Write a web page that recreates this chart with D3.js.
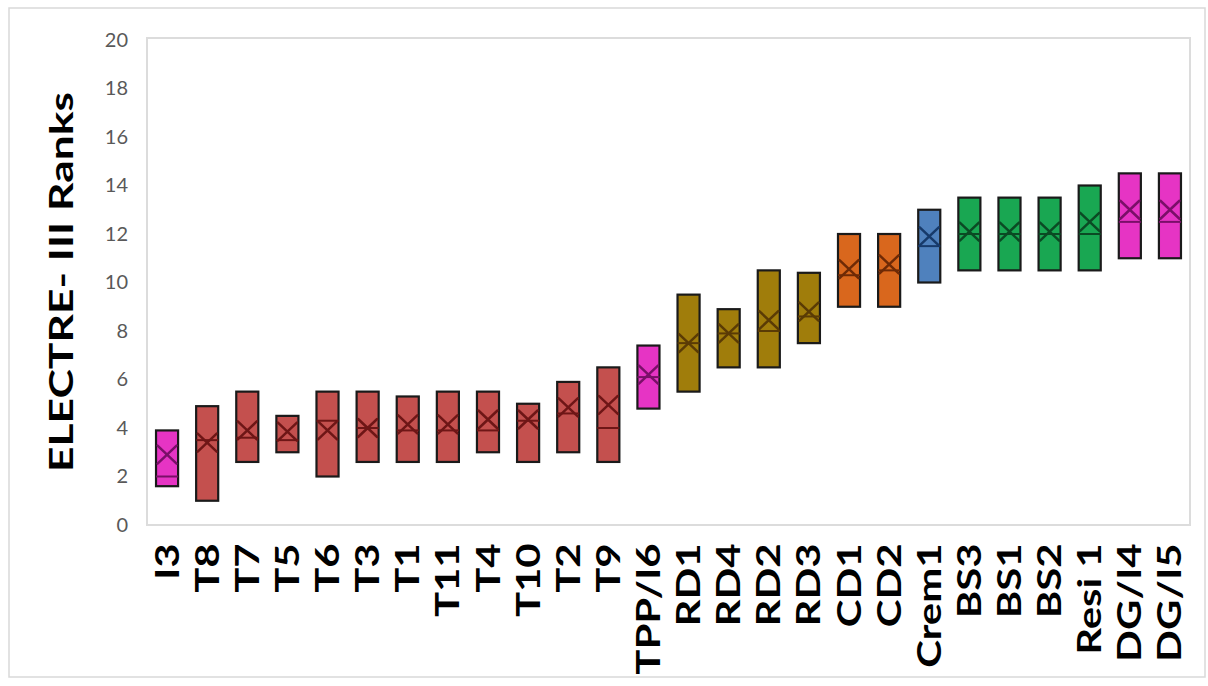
<!DOCTYPE html>
<html>
<head>
<meta charset="utf-8">
<script src="https://cdn.jsdelivr.net/npm/d3@7"></script>
<style>
  html, body { margin: 0; padding: 0; background: #fff; }
  svg { display: block; }
</style>
</head>
<body>
<svg id="chart" width="1208" height="686"></svg>
<script>
// ---- data ----
const categories = ["I3","T8","T7","T5","T6","T3","T1","T11","T4","T10","T2","T9","TPP/I6","RD1","RD4","RD2","RD3","CD1","CD2","Crem1","BS3","BS1","BS2","Resi 1","DG/I4","DG/I5"];
const boxLow  = [1.6,1.0,2.6,3.0,2.0,2.6,2.6,2.6,3.0,2.6,3.0,2.6,4.8,5.5,6.5,6.5,7.5,9.0,9.0,10.0,10.5,10.5,10.5,10.5,11.0,11.0];
const boxHigh = [3.9,4.9,5.5,4.5,5.5,5.5,5.3,5.5,5.5,5.0,5.9,6.5,7.4,9.5,8.9,10.5,10.4,12.0,12.0,13.0,13.5,13.5,13.5,14.0,14.5,14.5];
const medians = [2.0,3.5,3.6,3.5,4.3,4.0,3.9,3.9,3.9,4.3,4.6,4.0,6.1,7.5,7.9,8.0,8.6,10.3,10.5,11.5,12.0,12.0,12.0,12.0,12.5,12.5];
const means   = [2.9,3.4,3.9,3.85,3.9,4.0,4.15,4.15,4.35,4.35,4.85,4.95,6.2,7.5,7.9,8.45,8.8,10.55,10.75,11.9,12.1,12.1,12.1,12.5,13.0,13.0];
const groups  = ["I","T","T","T","T","T","T","T","T","T","T","T","I","RD","RD","RD","RD","CD","CD","Crem","BS","BS","BS","BS","I","I"];
const yTicks  = [0,2,4,6,8,10,12,14,16,18,20];
const yTitle  = "ELECTRE- III Ranks";

const groupNames = ["I","T","RD","CD","Crem","BS"];
const fillColors = ["#E634C4","#C4504E","#A07D0B","#D9671D","#4F81BD","#19A752"];
const darkColors = ["#7A0F68","#6E1616","#5A3B05","#6E2A06","#173A6A","#0B4A24"];

// ---- layout ----
const svg = d3.select("#chart");
const pLeft = 147, pRight = 1190, pTop = 40, pBottom = 525;

const x = d3.scaleBand().domain(categories).range([pLeft, pRight]);
const y = d3.scaleLinear().domain([0, 20]).range([pBottom, pTop]);
const fill = d3.scaleOrdinal().domain(groupNames).range(fillColors);
const dark = d3.scaleOrdinal().domain(groupNames).range(darkColors);

// outer chart border
svg.append("rect").attr("x", 9).attr("y", 8).attr("width", 1196).attr("height", 669)
  .attr("fill", "none").attr("stroke", "#d9d9d9").attr("stroke-width", 1.5);

// plot area border
svg.append("rect").attr("x", pLeft).attr("y", y(20) - 2).attr("width", pRight - pLeft).attr("height", pBottom - y(20) + 2)
  .attr("fill", "none").attr("stroke", "#dcdcdc").attr("stroke-width", 2);

// y axis
const yAxis = svg.append("g").attr("transform", `translate(${pLeft},0)`)
  .call(d3.axisLeft(y).tickValues(yTicks).tickSize(0).tickPadding(19));
yAxis.select(".domain").remove();
yAxis.selectAll("text").attr("fill", "#595959").style("font-family", "Lato, 'Open Sans', sans-serif").style("font-size", "20px");

// x axis
const xAxis = svg.append("g").attr("transform", `translate(0,${pBottom})`)
  .call(d3.axisBottom(x).tickSize(0));
xAxis.select(".domain").remove();
xAxis.selectAll("text")
  .attr("text-anchor", "end")
  .attr("x", -14).attr("y", 0).attr("dy", "0.36em")
  .attr("transform", "rotate(-90) scale(1.31,1)")
  .attr("fill", "#000")
  .style("font-family", "Lato, 'Open Sans', sans-serif")
  .style("font-weight", "bold")
  .style("font-size", "32px");

// y title
svg.append("text")
  .attr("transform", `translate(73,282) rotate(-90)`)
  .attr("text-anchor", "middle")
  .attr("textLength", 380).attr("lengthAdjust", "spacingAndGlyphs")
  .style("font-family", "Lato, 'Open Sans', sans-serif")
  .style("font-weight", "bold")
  .style("font-size", "33px")
  .attr("fill", "#000")
  .text(yTitle);

// boxes
const data = categories.map((c, i) => ({ c, lo: boxLow[i], hi: boxHigh[i], med: medians[i], mean: means[i], g: groups[i] }));
const bw = x.bandwidth() * 0.55;
const g = svg.append("g");
const box = g.selectAll("g.box").data(data).join("g").attr("class", "box")
  .attr("transform", d => `translate(${x(d.c) + x.bandwidth() / 2},0)`);

box.append("rect")
  .attr("x", -bw / 2).attr("width", bw)
  .attr("y", d => y(d.hi)).attr("height", d => y(d.lo) - y(d.hi))
  .attr("fill", d => fill(d.g)).attr("stroke", "#1a1a1a").attr("stroke-width", 2.2);

box.append("line")
  .attr("x1", -bw / 2).attr("x2", bw / 2)
  .attr("y1", d => y(d.med)).attr("y2", d => y(d.med))
  .attr("stroke", d => dark(d.g)).attr("stroke-width", 2);

const mx = 9.5, my = 9;
box.append("path")
  .attr("d", d => {
    const cy = y(d.mean);
    return `M${-mx},${cy - my}L${mx},${cy + my}M${-mx},${cy + my}L${mx},${cy - my}`;
  })
  .attr("fill", "none").attr("stroke", d => dark(d.g)).attr("stroke-width", 2.5).attr("stroke-linecap", "round");
</script>
</body>
</html>
